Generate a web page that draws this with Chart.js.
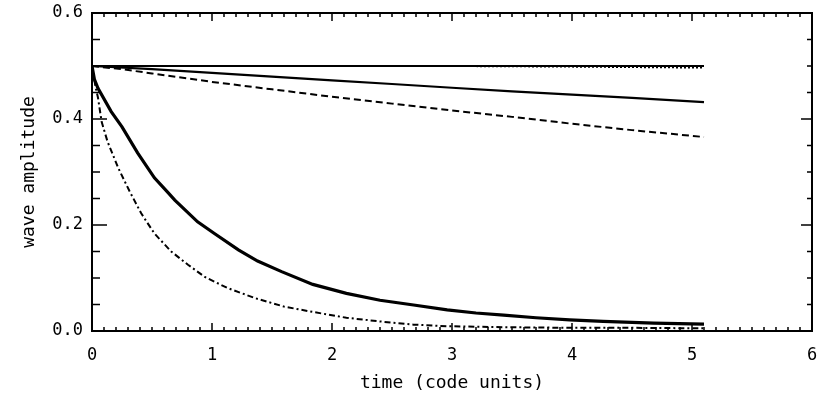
<!DOCTYPE html>
<html>
<head>
<meta charset="utf-8">
<script src="https://cdn.jsdelivr.net/npm/chart.js@4/dist/chart.umd.min.js"></script>
<style>
  html, body { margin: 0; padding: 0; background: #fff; }
  #wrap { width: 818px; height: 397px; }
</style>
</head>
<body>
<div id="wrap"><canvas id="c" width="818" height="397"></canvas></div>
<script>
// Wave amplitude vs. time for several damping rates
const xTicks = [0, 1, 2, 3, 4, 5, 6];
const yTicks = [0.0, 0.2, 0.4, 0.6];

// undamped (solid) and its dotted companion
const tFlat = [0, 1, 2, 3, 4, 5.1];
const vFlat = [0.5, 0.5, 0.5, 0.5, 0.5, 0.5];
const tFlatDot = [0, 1, 2, 3, 3.9, 4.5, 5.1];
const vFlatDot = [0.5, 0.5, 0.5, 0.5, 0.499, 0.498, 0.497];

// weak damping
const tSlow = [0, 0.5, 1, 1.5, 2, 2.5, 3, 3.5, 4, 4.5, 5.1];
const vSlow = [0.5, 0.494, 0.487, 0.480, 0.473, 0.466, 0.459, 0.452, 0.446, 0.440, 0.432];
const tSlowDash = [0, 0.25, 0.5, 1, 1.5, 2, 2.5, 3, 3.5, 4, 4.5, 5.1];
const vSlowDash = [0.5, 0.494, 0.486, 0.47, 0.456, 0.442, 0.429, 0.416, 0.404, 0.391, 0.379, 0.366];

// strong damping
const tFast = [0, 0.02, 0.05, 0.16, 0.25, 0.38, 0.52, 0.63, 0.69, 0.88, 1.02, 1.22, 1.38, 1.58, 1.84, 2.12, 2.4, 2.68, 2.96, 3.2, 3.43, 3.7, 3.98, 4.26, 4.68, 5.1];
const vFast = [0.5, 0.475, 0.458, 0.414, 0.385, 0.336, 0.289, 0.262, 0.247, 0.206, 0.184, 0.153, 0.132, 0.112, 0.088, 0.071, 0.058, 0.049, 0.04, 0.034, 0.03, 0.025, 0.021, 0.018, 0.015, 0.013];
const tFastDashDot = [0, 0.03, 0.05, 0.08, 0.13, 0.22, 0.31, 0.41, 0.52, 0.66, 0.8, 0.94, 1.13, 1.36, 1.6, 1.84, 2.12, 2.4, 2.68, 2.96, 3.5, 4, 4.5, 5.1];
const vFastDashDot = [0.5, 0.46, 0.44, 0.395, 0.357, 0.307, 0.265, 0.222, 0.184, 0.15, 0.125, 0.102, 0.081, 0.062, 0.046, 0.036, 0.025, 0.018, 0.012, 0.009, 0.007, 0.006, 0.006, 0.005];

const pts = (t, v) => t.map((x, i) => ({ x, y: v[i] }));
const FONT = "'DejaVu Sans Mono', monospace";

function series(t, v, width, dash) {
  return {
    data: pts(t, v),
    borderColor: '#000',
    borderWidth: width,
    borderDash: dash,
    pointRadius: 0,
    tension: 0,
    fill: false
  };
}

// frame with inward ticks on all four sides
const frame = {
  id: 'frame',
  afterDatasetsDraw(chart) {
    const { ctx, chartArea: a, scales: { x, y } } = chart;
    ctx.save();
    ctx.strokeStyle = '#000';
    ctx.lineWidth = 2;
    ctx.strokeRect(a.left, a.top, a.right - a.left, a.bottom - a.top);
    ctx.lineWidth = 1.5;
    ctx.beginPath();
    for (let i = 0; i <= 60; i++) {
      const px = x.getPixelForValue(i / 10);
      const len = i % 10 === 0 ? 8 : 4;
      ctx.moveTo(px, a.bottom); ctx.lineTo(px, a.bottom - len);
      ctx.moveTo(px, a.top); ctx.lineTo(px, a.top + len);
    }
    for (let j = 0; j <= 12; j++) {
      const py = y.getPixelForValue(j * 0.05);
      const major = j % 4 === 0;
      ctx.moveTo(a.left, py); ctx.lineTo(a.left + (major ? 15 : 8), py);
      ctx.moveTo(a.right, py); ctx.lineTo(a.right - (major ? 11 : 5), py);
    }
    ctx.stroke();
    ctx.restore();
  }
};

new Chart(document.getElementById('c'), {
  type: 'line',
  data: {
    datasets: [
      series(tFlat, vFlat, 2.2, []),
      series(tFlatDot, vFlatDot, 2, [2, 2]),
      series(tSlow, vSlow, 2.2, []),
      series(tSlowDash, vSlowDash, 2, [7, 4]),
      series(tFast, vFast, 3.2, []),
      series(tFastDashDot, vFastDashDot, 2, [6, 3, 2, 3])
    ]
  },
  options: {
    responsive: false,
    animation: false,
    layout: { padding: { top: 13, right: 6, left: 0, bottom: 0 } },
    plugins: { legend: { display: false }, tooltip: { enabled: false } },
    scales: {
      x: {
        type: 'linear',
        min: 0, max: 6,
        afterBuildTicks: s => { s.ticks = xTicks.map(v => ({ value: v })); },
        afterFit: s => { s.height = 66; s.paddingLeft = 0; s.paddingRight = 0; },
        grid: { display: false, drawTicks: false },
        border: { display: false },
        ticks: {
          color: '#000', padding: 14, maxRotation: 0,
          font: { family: FONT, size: 17 },
          callback: v => String(v)
        },
        title: {
          display: true, text: 'time (code units)', color: '#000',
          font: { family: FONT, size: 18 }, padding: { top: 0, bottom: 3 }
        }
      },
      y: {
        type: 'linear',
        min: 0, max: 0.6,
        afterBuildTicks: s => { s.ticks = yTicks.map(v => ({ value: v })); },
        afterFit: s => { s.width = 92; s.paddingTop = 0; s.paddingBottom = 0; },
        grid: { display: false, drawTicks: false },
        border: { display: false },
        ticks: {
          color: '#000', padding: 9,
          font: { family: FONT, size: 17 },
          callback: v => Number(v).toFixed(1)
        },
        title: {
          display: true, text: 'wave amplitude', color: '#000',
          font: { family: FONT, size: 18 }, padding: { top: 19, bottom: 0 }
        }
      }
    }
  },
  plugins: [frame]
});
</script>
</body>
</html>
